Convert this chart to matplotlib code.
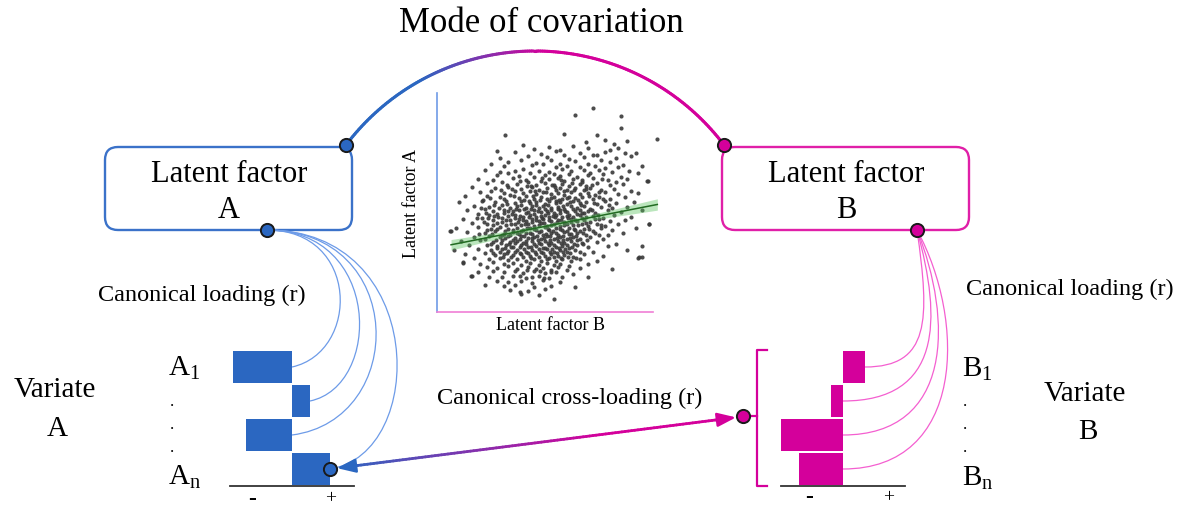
import numpy as np
import matplotlib.pyplot as plt
from matplotlib.patches import FancyBboxPatch, PathPatch
from matplotlib.path import Path
from matplotlib.collections import LineCollection
from matplotlib.colors import to_rgb

plt.rcParams['font.family'] = ['Liberation Serif', 'DejaVu Serif']
plt.rcParams['mathtext.fontset'] = 'custom'
plt.rcParams['mathtext.rm'] = 'Liberation Serif'
plt.rcParams['mathtext.it'] = 'Liberation Serif:italic'

# ---- data ----
loading_a = [-0.59, 0.18, -0.46, 0.38]     # canonical loadings, variate A
loading_b = [0.22, -0.12, -0.66, -0.44]    # canonical loadings, variate B
labels_a = [r'A$_\mathrm{1}$', '.', '.', '.', r'A$_\mathrm{n}$']
labels_b = [r'B$_\mathrm{1}$', '.', '.', '.', r'B$_\mathrm{n}$']

# latent factor scores (B on x, A on y), rough reading of the cloud
latent_pts = [
    (72, 93), (64, 90), (85, 89.5), (102, 79), (85, 84), (31.6, 81), (74, 81), (59, 81.5),
    (78, 78.6), (69, 77.5), (88, 78), (40, 76.4), (82, 76.8),
    (45, 74.6), (52, 75.3), (57, 74.2), (63, 75.8), (70, 74.9), (80, 73.8), (84, 75.1), (92, 72.6), (28, 73.7),
    (36, 72.9), (48, 72.1), (55, 73.4), (66, 72.6), (74, 71.5), (78, 73.0), (90, 71.2), (29, 70.4),
    (42, 71.3), (51, 70.6), (59, 71.8), (61, 69.9), (68, 70.8), (72, 71.9), (83, 70.2), (87, 72.4),
    (33, 68.6), (39, 69.4), (46, 68.1), (53, 69.5), (57, 67.8), (64, 68.9), (70, 67.5), (76, 69.2),
    (80, 68.3), (86, 67.1), (25, 67.4), (31, 66.5), (44, 66.9), (49, 67.6), (55, 66.2), (60, 66.8),
    (66, 66.0), (73, 66.7), (78, 65.9), (84, 66.3), (95, 66.8), (97, 60),
    (22, 64.8), (36, 64.2), (40, 65.4), (47, 64.6), (52, 63.9), (58, 65.1), (62, 64.3), (68, 64.9),
    (71, 63.6), (75, 64.7), (81, 63.8), (89, 64.4), (28, 62.7), (33, 63.4), (38, 62.2), (43, 63.6),
    (50, 62.5), (54, 63.1), (57, 61.9), (61, 62.8), (65, 61.6), (70, 62.4), (77, 62.9), (85, 61.8), (93, 63.5),
    (19, 60.8), (26, 60.1), (35, 61.3), (41, 60.4), (45, 61.6), (48, 59.9), (52, 60.7), (56, 61.2),
    (59, 59.6), (63, 60.9), (67, 60.2), (72, 61.0), (79, 60.3), (83, 59.4), (88, 60.6), (23, 58.7),
    (30, 59.2), (37, 58.4), (42, 59.3), (46, 58.1), (50, 58.8), (54, 57.9), (58, 58.6), (61, 57.6),
    (66, 58.3), (69, 57.4), (74, 58.9), (80, 57.8), (86, 58.4), (16, 57.1),
    (27, 56.6), (33, 57.2), (39, 56.3), (44, 56.9), (47, 55.8), (51, 56.5), (55, 55.6), (57, 56.8),
    (60, 55.9), (64, 56.4), (68, 55.5), (71, 56.7), (76, 55.8), (82, 56.2), (90, 55.4), (20, 54.9),
    (25, 55.3), (31, 54.4), (36, 55.1), (40, 54.2), (43, 55.4), (46, 54.0), (49, 54.7), (53, 53.8),
    (56, 54.5), (59, 53.6), (62, 54.8), (66, 53.9), (70, 54.3), (73, 53.4), (78, 54.6), (84, 53.7), (93, 54.2),
    (13, 52.8), (23, 53.1), (29, 52.4), (34, 53.2), (38, 52.1), (41, 52.9), (45, 51.8), (48, 52.6),
    (51, 51.7), (54, 52.4), (58, 51.5), (61, 52.7), (64, 51.9), (67, 52.3), (72, 51.4), (75, 52.6),
    (80, 51.6), (87, 52.5), (10, 50.3), (21, 50.8), (27, 50.1), (32, 50.9), (36, 49.8), (39, 50.6),
    (43, 49.7), (46, 50.4), (50, 49.5), (52, 50.7), (55, 49.6), (57, 50.3), (60, 49.4), (63, 50.5),
    (66, 49.7), (69, 50.2), (74, 49.3), (78, 50.8), (83, 49.9), (91, 50.4),
    (17, 48.6), (24, 48.1), (30, 48.9), (34, 47.7), (37, 48.4), (41, 47.6), (44, 48.3), (47, 47.4),
    (49, 48.5), (53, 47.3), (56, 48.1), (59, 47.2), (62, 48.4), (65, 47.5), (68, 48.2), (71, 47.1),
    (76, 48.0), (81, 47.3), (88, 48.1), (14, 46.4), (22, 46.9), (26, 46.2), (31, 46.8), (35, 45.9),
    (38, 46.6), (42, 45.7), (45, 46.5), (48, 45.6), (51, 46.3), (54, 45.4), (57, 46.6), (60, 45.5),
    (64, 46.2), (67, 45.3), (70, 46.1), (73, 45.2), (79, 46.4), (85, 45.6), (95, 46.5),
    (19, 44.6), (24, 44.1), (28, 44.9), (33, 43.8), (36, 44.5), (40, 43.6), (43, 44.4), (46, 43.5),
    (50, 44.2), (52, 43.3), (55, 44.5), (58, 43.4), (61, 44.1), (63, 43.2), (66, 44.3), (69, 43.4),
    (72, 44.0), (77, 43.1), (82, 44.2), (90, 43.5), (12, 42.4), (21, 42.8), (26, 42.1), (30, 42.7),
    (34, 41.8), (38, 42.5), (41, 41.6), (44, 42.3), (47, 41.4), (49, 42.6), (53, 41.5), (56, 42.2),
    (59, 41.3), (62, 42.4), (65, 41.5), (68, 42.1), (71, 41.2), (75, 42.3), (80, 41.4), (87, 42.0),
    (16, 40.6), (23, 40.1), (28, 40.8), (32, 39.7), (36, 40.4), (39, 39.5), (42, 40.3), (45, 39.4),
    (48, 40.5), (51, 39.3), (54, 40.1), (57, 39.2), (60, 40.4), (63, 39.5), (67, 40.2), (70, 39.3),
    (74, 40.0), (78, 39.1), (84, 40.2), (98, 40.0), (9, 38.4), (19, 38.8), (25, 38.1), (29, 38.7),
    (33, 37.8), (37, 38.5), (40, 37.6), (43, 38.3), (46, 37.4), (50, 38.6), (52, 37.5), (55, 38.2),
    (58, 37.3), (61, 38.4), (64, 37.5), (68, 38.1), (72, 37.2), (76, 38.3), (81, 37.4), (92, 38.2),
    (6, 37.0), (14, 36.6), (22, 36.1), (27, 36.8), (31, 35.7), (35, 36.4), (38, 35.5), (41, 36.3),
    (44, 35.4), (47, 36.5), (49, 35.3), (53, 36.1), (56, 35.2), (59, 36.4), (62, 35.5), (65, 36.2),
    (69, 35.3), (73, 36.0), (79, 35.1), (86, 36.2), (17, 34.4), (24, 34.8), (29, 34.1), (33, 34.7),
    (36, 33.8), (39, 34.5), (42, 33.6), (45, 34.3), (48, 33.4), (51, 34.6), (54, 33.5), (57, 34.2),
    (60, 33.3), (63, 34.4), (66, 33.5), (71, 34.1), (77, 33.2),
    (11, 32.4), (20, 32.8), (26, 32.1), (30, 32.7), (34, 31.8), (37, 32.5), (40, 31.6), (44, 32.3),
    (47, 31.4), (50, 32.6), (53, 31.5), (56, 32.2), (59, 31.3), (62, 32.4), (67, 31.5), (74, 32.1),
    (83, 31.2), (15, 30.4), (23, 30.8), (28, 30.1), (32, 30.7), (35, 29.8), (39, 30.5), (42, 29.6),
    (46, 30.3), (49, 29.4), (52, 30.6), (55, 29.5), (58, 30.2), (61, 29.3), (65, 30.4), (70, 29.5),
    (79, 30.1), (95, 25.0),
    (8, 28.4), (19, 28.8), (25, 28.1), (30, 28.7), (33, 27.8), (37, 28.5), (41, 27.6), (44, 28.3),
    (48, 27.4), (51, 28.6), (54, 27.5), (57, 28.2), (60, 27.3), (64, 28.4), (72, 27.5), (88, 28.1),
    (13, 26.4), (22, 26.8), (27, 26.1), (31, 26.7), (35, 25.8), (39, 26.5), (43, 25.6), (46, 26.3),
    (50, 25.4), (53, 26.6), (56, 25.5), (59, 26.2), (63, 25.3), (68, 26.4), (77, 25.5),
    (17, 24.6), (24, 24.1), (29, 24.8), (33, 23.7), (37, 24.4), (41, 23.5), (45, 24.3), (48, 23.4),
    (52, 24.5), (55, 23.3), (58, 24.1), (62, 23.2), (66, 24.4), (74, 23.5), (93, 24.5), (12, 22.6),
    (20, 22.1), (26, 22.8), (31, 21.7), (35, 22.4), (39, 21.5), (43, 22.3), (47, 21.4), (51, 22.5),
    (54, 21.3), (57, 22.1), (61, 21.2), (70, 22.0),
    (23, 20.6), (28, 20.1), (33, 20.8), (37, 19.7), (42, 20.4), (46, 19.5), (49, 20.3), (53, 19.4),
    (56, 20.5), (60, 19.3), (66, 20.1), (81, 19.6), (19, 18.4), (26, 18.8), (31, 18.1), (36, 18.7),
    (40, 17.8), (45, 18.5), (50, 17.6), (55, 18.3), (63, 17.4), (16, 16.5), (24, 16.2), (30, 15.9),
    (35, 16.6), (41, 15.7), (47, 16.4), (52, 15.5), (58, 16.2), (70, 15.8),
    (28, 14.3), (33, 13.6), (39, 14.1), (44, 13.2), (49, 14.4), (57, 13.5), (22, 12.5), (31, 11.8),
    (36, 12.2), (45, 11.3), (53, 12.1), (64, 11.6), (34, 10.2), (42, 9.6), (50, 10.4), (38.6, 9.0),
    (39, 8.2), (47, 7.6), (54, 6.0), (12, 23), (15.8, 16.5), (6.5, 37), (21.5, 51), (29, 64),
    (97.5, 59.6), (93.5, 25), (94.7, 30), (98, 40),
]
# the dense middle of the cloud
latent_core = [
    (32.5, 57.9), (38.2, 59.8), (43.6, 57.5), (48.8, 61.3), (53.1, 58.2), (57.4, 60.1), (62.6, 58.9),
    (67.3, 59.5), (71.8, 57.9), (76.5, 60.8), (29.4, 55.7), (34.8, 56.2), (41.5, 57.6), (45.2, 55.1),
    (50.3, 55.0), (54.6, 56.9), (58.7, 55.2), (63.3, 55.5), (69.2, 56.1), (74.8, 55.0),
    (24.7, 52.0), (31.2, 51.5), (35.5, 52.8), (40.1, 51.2), (44.3, 53.1), (47.6, 51.0), (52.9, 52.0),
    (56.4, 51.1), (60.1, 52.0), (65.4, 51.0), (70.6, 52.9), (76.9, 51.5),
    (26.3, 48.7), (32.6, 49.2), (38.9, 48.9), (42.8, 50.6), (45.9, 48.8), (51.4, 48.9), (54.9, 50.9),
    (58.3, 48.6), (61.7, 50.1), (66.8, 48.7), (72.5, 49.9), (79.4, 48.8),
    (20.4, 47.5), (28.7, 47.4), (33.1, 46.3), (36.8, 47.0), (40.3, 46.9), (43.5, 47.1), (46.7, 46.0),
    (49.8, 47.0), (52.7, 46.8), (55.8, 47.0), (59.2, 46.0), (62.9, 47.1), (66.2, 46.6), (71.9, 46.8),
    (22.8, 45.3), (26.4, 44.0), (30.9, 45.1), (34.6, 44.9), (38.3, 44.0), (41.4, 45.1), (44.8, 44.6),
    (48.2, 43.8), (51.2, 45.0), (53.6, 43.9), (56.8, 45.3), (60.0, 44.0), (64.6, 44.7), (68.0, 45.0), (74.4, 44.1),
    (18.3, 43.1), (23.6, 42.9), (28.3, 43.3), (32.1, 41.9), (36.0, 43.0), (39.6, 41.8), (42.7, 43.2),
    (45.8, 42.0), (48.6, 43.1), (51.8, 41.9), (54.6, 43.2), (57.6, 42.0), (60.5, 43.1), (63.9, 41.8),
    (67.1, 43.0), (73.3, 42.6),
    (21.7, 40.9), (25.9, 39.6), (30.2, 41.0), (34.1, 40.1), (37.6, 41.2), (40.8, 40.0), (43.9, 41.0),
    (47.1, 39.9), (49.6, 40.8), (52.8, 39.8), (55.7, 41.0), (58.9, 39.8), (62.1, 40.9), (65.3, 39.9),
    (69.1, 40.7), (76.1, 39.8),
    (23.2, 37.3), (27.6, 38.0), (31.4, 37.2), (35.2, 37.6), (38.7, 37.1), (41.8, 38.2), (44.9, 37.9),
    (48.1, 37.0), (51.2, 37.9), (53.9, 36.9), (57.0, 37.9), (60.2, 37.0), (63.2, 38.0), (66.4, 37.0), (70.3, 37.8),
    (19.6, 35.4), (25.5, 35.6), (29.9, 35.2), (33.6, 35.1), (36.9, 35.9), (40.2, 34.9), (43.2, 36.0),
    (46.3, 34.9), (50.4, 35.8), (52.4, 34.7), (55.3, 35.9), (58.2, 34.8), (61.3, 35.7), (64.4, 34.8),
    (67.8, 35.9), (74.8, 35.0),
    (22.1, 33.4), (27.2, 33.1), (31.5, 33.6), (35.3, 32.8), (38.6, 33.5), (41.3, 32.6), (43.8, 33.7),
    (46.6, 32.9), (49.5, 33.6), (52.4, 32.7), (55.5, 33.7), (58.5, 32.9), (61.6, 33.6), (64.9, 32.7), (69.4, 33.0),
    (25.1, 31.2), (29.7, 31.6), (33.2, 31.0), (36.2, 31.5), (38.4, 29.9), (41.1, 31.1), (45.1, 31.2),
    (48.3, 30.9), (51.3, 31.5), (54.2, 30.8), (57.2, 31.4), (60.3, 30.8), (63.6, 31.2), (67.5, 30.9),
    (27.8, 29.2), (31.5, 29.0), (34.3, 29.6), (40.3, 28.8), (43.3, 29.5), (47.0, 28.9), (50.2, 29.2),
    (53.3, 28.9), (56.4, 29.3), (59.4, 28.7), (62.5, 29.6),
    (26.0, 27.0), (29.2, 27.4), (32.4, 26.9), (36.3, 27.3), (38.3, 26.9), (42.2, 26.9), (45.3, 27.4),
    (48.9, 26.8), (52.3, 27.3), (55.4, 26.9), (58.5, 27.5), (61.7, 26.8), (66.0, 27.2),
    (30.7, 25.0), (34.4, 24.9), (40.0, 25.0), (43.7, 24.7), (47.3, 25.0), (50.8, 24.2), (54.1, 25.2),
    (57.3, 24.7), (60.6, 25.1), (64.2, 24.6),
    (41.5, 19.0), (47.8, 18.9), (52.7, 18.2), (44.2, 16.0), (38.2, 16.4), (49.5, 15.5),
]
fit_x = [6.5, 102]
fit_y = [30.7, 49.1]
band_x = [6.5, 30, 50, 75, 102]
band_half = [2.4, 1.4, 1.0, 1.4, 2.6]

BLUE = '#2b67c1'
MAG = '#d4009b'
W, H = 1190, 511


def box(x0, y0, x1, y1):
    return [x0 / W, 1 - y1 / H, (x1 - x0) / W, (y1 - y0) / H]


fig = plt.figure(figsize=(W / 100, H / 100), dpi=100)

# ---- scatter inset ----
sax = fig.add_axes(box(437, 93, 653, 312))
pts = latent_pts + latent_core
lb = [p[0] for p in pts]
la = [p[1] for p in pts]
sax.scatter(lb, la, s=9, color='#3a3a3a', alpha=0.9, linewidths=0, clip_on=False, zorder=2)
bx = np.linspace(band_x[0], band_x[-1], 50)
by = np.interp(bx, fit_x, fit_y)
bh = np.interp(bx, band_x, band_half)
sax.fill_between(bx, by - bh, by + bh, color='#56c15a', alpha=0.4, lw=0, zorder=3, clip_on=False)
sax.plot(fit_x, fit_y, color='#226b22', lw=1.1, zorder=4, clip_on=False)
sax.set_xlim(0, 100)
sax.set_ylim(0, 100)
sax.set_xticks([])
sax.set_yticks([])
for s in ['top', 'right']:
    sax.spines[s].set_visible(False)
sax.spines['left'].set_color('#6f9be6')
sax.spines['bottom'].set_color('#f07fd6')
sax.spines['left'].set_linewidth(1.2)
sax.spines['bottom'].set_linewidth(1.2)
sax.patch.set_visible(False)

# ---- loading bars ----
bar_axes = []
for (x0, x1), vals, col in [((230, 354), loading_a, BLUE), ((781, 905), loading_b, MAG)]:
    bax = fig.add_axes(box(x0, 350, x1, 486))
    bax.barh(range(len(vals)), vals, height=0.93, color=col)
    bax.set_xlim(-0.62, 0.62)
    bax.set_ylim(3.5, -0.5)
    bax.set_xticks([])
    bax.set_yticks([])
    for s in ['top', 'right', 'left']:
        bax.spines[s].set_visible(False)
    bax.spines['bottom'].set_color('#333333')
    bax.spines['bottom'].set_linewidth(1.3)
    bax.patch.set_visible(False)
    bar_axes.append(bax)

# ---- overlay axes in pixel coordinates ----
ax = fig.add_axes([0, 0, 1, 1])
ax.set_xlim(0, W)
ax.set_ylim(H, 0)
ax.axis('off')
ax.patch.set_visible(False)


def to_main(bax, x, y):
    d = bax.transData.transform((x, y))
    return ax.transData.inverted().transform(d)


def grad_line(xs, ys, c0, c1, xa, xb, lw):
    p = np.column_stack([xs, ys])
    segs = np.stack([p[:-1], p[1:]], axis=1)
    mid = (p[:-1, 0] + p[1:, 0]) / 2
    f = np.clip((mid - xa) / (xb - xa), 0, 1)[:, None]
    cols = np.array(to_rgb(c0)) * (1 - f) + np.array(to_rgb(c1)) * f
    ax.add_collection(LineCollection(segs, colors=cols, linewidths=lw, capstyle='round', zorder=3))


def dot(x, y, col):
    ax.plot(x, y, 'o', ms=9.5, mfc=col, mec='#1a1a1a', mew=1.4, zorder=6)


# boxes
for x0, col, sub in [(105, '#3b72c9', 'A'), (722, '#e01fa8', 'B')]:
    ax.add_patch(FancyBboxPatch((x0, 147), 247, 83, boxstyle='round,pad=0,rounding_size=13',
                                fc='none', ec=col, lw=1.7, zorder=2))
    ax.text(x0 + 124, 174, 'Latent factor', fontsize=22, ha='center', va='center')
    ax.text(x0 + 124, 211, sub, fontsize=22, ha='center', va='center')

# mode of covariation arc
p0, p1, cx, cy = (346, 145), (724, 145), 535, 288
r = np.hypot(p0[0] - cx, p0[1] - cy)
t0 = np.arctan2(cy - p0[1], p0[0] - cx)
t1 = np.arctan2(cy - p1[1], p1[0] - cx)
th = np.linspace(t0, t1, 200)
grad_line(cx + r * np.cos(th), cy - r * np.sin(th), BLUE, MAG, 420, 545, 2.2)
ax.text(541, 24, 'Mode of covariation', fontsize=25, ha='center', va='center')

# loading curves, variate A
start_a = (267, 230)
reach_a = [360, 382, 408, 428]
for i, v in enumerate(loading_a):
    ex, ey = to_main(bar_axes[0], max(v, 0), i)
    xc = reach_a[i]
    path = Path([start_a, (xc, start_a[1]), (xc, ey - 15), (ex, ey)],
                [Path.MOVETO, Path.CURVE4, Path.CURVE4, Path.CURVE4])
    ax.add_patch(PathPatch(path, fc='none', ec='#6d9be8', lw=0.9, zorder=3))

# loading curves, variate B
start_b = (917, 230)
reach_b = [930, 942, 953, 966]
for i, v in enumerate(loading_b):
    ex, ey = to_main(bar_axes[1], max(v, 0), i)
    xc = reach_b[i]
    path = Path([start_b, (xc, start_b[1] + 90), (xc, ey), (ex, ey)],
                [Path.MOVETO, Path.CURVE4, Path.CURVE4, Path.CURVE4])
    ax.add_patch(PathPatch(path, fc='none', ec='#f45fd0', lw=0.9, zorder=3))

# bracket on variate B
ax.plot([767, 757, 757, 767], [350, 350, 486, 486], color=MAG, lw=1.6, zorder=3)
ax.plot([743, 757], [416.5, 416.5], color=MAG, lw=1.6, zorder=3)

# cross-loading arrow
ea = to_main(bar_axes[0], loading_a[3], 3)
eb = np.array([743, 416.5])
d = (eb - ea) / np.hypot(*(eb - ea))
tip_a = ea + d * 7
tip_b = eb - d * 7
n = 120
grad_line(np.linspace(tip_a[0] + d[0] * 8, tip_b[0] - d[0] * 8, n),
          np.linspace(tip_a[1] + d[1] * 8, tip_b[1] - d[1] * 8, n),
          BLUE, MAG, 340, 600, 2.0)
for tip, dirv, col in [(tip_b, d, MAG), (tip_a, -d, BLUE)]:
    ax.annotate('', xy=tip, xytext=tip - dirv * 14,
                arrowprops=dict(arrowstyle='-|>,head_length=0.75,head_width=0.28', color=col,
                                lw=1.8, shrinkA=0, shrinkB=0, mutation_scale=15), zorder=4)
ax.text(570, 398, 'Canonical cross-loading (r)', fontsize=17.5, ha='center', va='center')

# dots
dot(346, 145, BLUE)
dot(267, 230, BLUE)
dot(724, 145, MAG)
dot(917, 230, MAG)
dot(ea[0], ea[1], BLUE)
dot(743, 416.5, MAG)

# labels
ax.text(202, 295, 'Canonical loading (r)', fontsize=17.5, ha='center', va='center')
ax.text(1070, 289, 'Canonical loading (r)', fontsize=17.5, ha='center', va='center')
ax.text(55, 390, 'Variate', fontsize=21, ha='center', va='center')
ax.text(57, 429, 'A', fontsize=21, ha='center', va='center')
ax.text(1085, 394, 'Variate', fontsize=21, ha='center', va='center')
ax.text(1088, 432, 'B', fontsize=21, ha='center', va='center')
for lab, y in zip(labels_a, [368, 402, 425, 448, 477]):
    ax.text(168 if len(lab) > 1 else 170, y, lab, fontsize=21 if len(lab) > 1 else 12,
            ha='left', va='center')
for lab, y in zip(labels_b, [369, 402, 425, 448, 478]):
    ax.text(962 if len(lab) > 1 else 963, y, lab, fontsize=21 if len(lab) > 1 else 12,
            ha='left', va='center')
ax.text(252, 500, '-', fontsize=17, ha='center', va='center', fontweight='bold')
ax.text(331, 499, '+', fontsize=14, ha='center', va='center')
ax.text(809, 497, '-', fontsize=17, ha='center', va='center', fontweight='bold')
ax.text(889, 498, '+', fontsize=14, ha='center', va='center')
ax.text(550, 325, 'Latent factor B', fontsize=13, ha='center', va='center')
ax.text(411, 203, 'Latent factor A', fontsize=13, ha='center', va='center', rotation=90)

fig.savefig('out.png', dpi=100)
